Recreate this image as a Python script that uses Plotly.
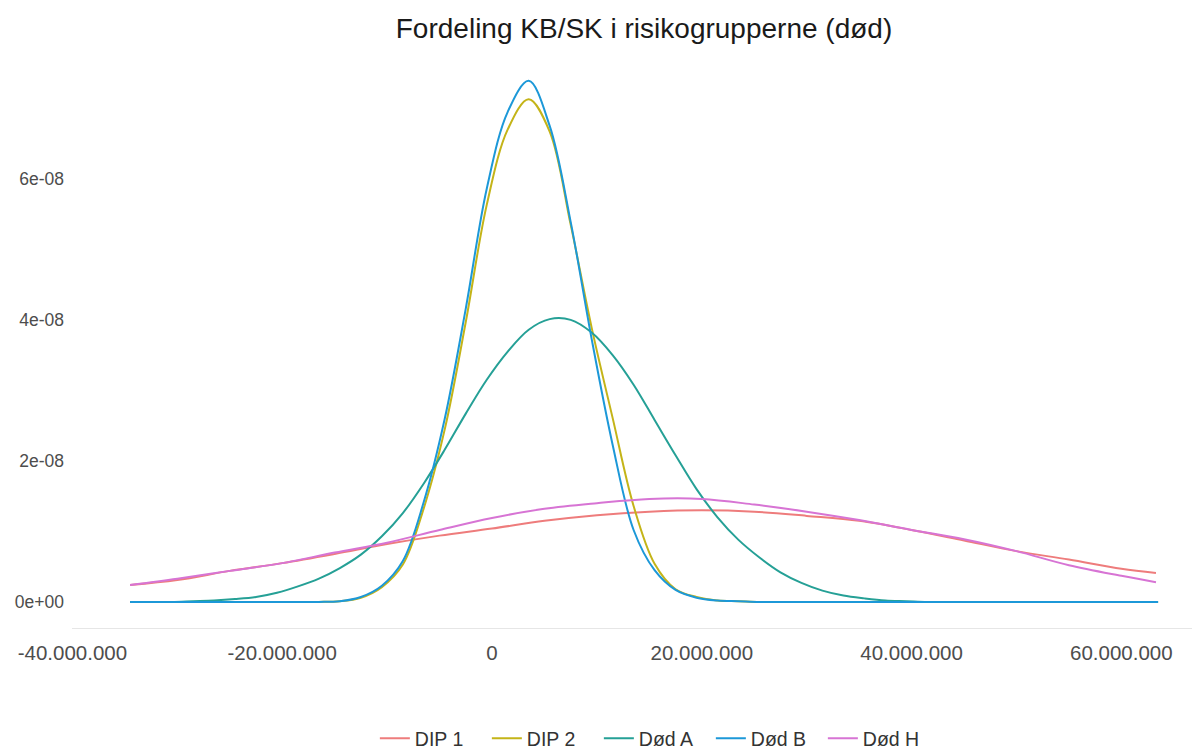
import numpy as np
import plotly.graph_objects as go

# x positions in millions, densities in units of 1e-8
x_narrow = [-34.5, -32.5, -30.5, -28.5, -26.5, -24.5, -22.5, -20.5, -18.5, -16.5,
            -14.5, -12.5, -10.5, -8.5, -6.5, -4.5, -2.5, -0.5, 1.5, 3.5,
            5.5, 7.5, 9.5, 11.5, 13.5, 15.5, 17.5, 19.5, 21.5, 23.5,
            25.5, 27.5, 29.5, 31.5, 33.5, 35.5, 37.5, 39.5, 41.5, 43.5,
            45.5, 47.5, 49.5, 51.5, 53.5, 55.5, 57.5, 59.5, 61.5, 63.5]
dip_2 = [0, 0, 0, 0, 0, 0, 0, 0, 0, 0,
         0.01, 0.06, 0.21, 0.53, 1.33, 2.45, 3.97, 5.63, 6.70, 7.13,
         6.67, 5.35, 3.89, 2.61, 1.36, 0.54, 0.18, 0.07, 0.02, 0.01,
         0, 0, 0, 0, 0, 0, 0, 0, 0, 0,
         0, 0, 0, 0, 0, 0, 0, 0, 0, 0]
dod_a = [0, 0, 0, 0.01, 0.02, 0.04, 0.07, 0.13, 0.22, 0.33,
         0.48, 0.67, 0.93, 1.26, 1.68, 2.16, 2.67, 3.15, 3.55, 3.86,
         4.01, 4.00, 3.82, 3.50, 3.08, 2.58, 2.08, 1.60, 1.20, 0.88,
         0.63, 0.42, 0.27, 0.16, 0.09, 0.05, 0.02, 0.01, 0, 0,
         0, 0, 0, 0, 0, 0, 0, 0, 0, 0]
dod_b = [0, 0, 0, 0, 0, 0, 0, 0, 0, 0,
         0.01, 0.07, 0.23, 0.58, 1.42, 2.60, 4.16, 5.86, 6.95, 7.39,
         6.75, 5.39, 3.73, 2.23, 1.02, 0.45, 0.17, 0.06, 0.02, 0.01,
         0, 0, 0, 0, 0, 0, 0, 0, 0, 0,
         0, 0, 0, 0, 0, 0, 0, 0, 0, 0]

x_wide = [-34.5, -30, -25, -20, -15, -10, -5, 0, 5, 10, 15, 20, 25, 30, 35, 40, 45, 50, 55, 60, 63.3]
dip_1 = [0.24, 0.31, 0.44, 0.55, 0.68, 0.82, 0.94, 1.04, 1.15, 1.23, 1.28, 1.30, 1.28, 1.22,
         1.15, 1.02, 0.87, 0.72, 0.60, 0.47, 0.41]
dod_h = [0.24, 0.33, 0.44, 0.55, 0.70, 0.84, 1.02, 1.19, 1.32, 1.40, 1.46, 1.46, 1.38, 1.28,
         1.16, 1.02, 0.89, 0.72, 0.52, 0.37, 0.28]

x_tickvals = [-40, -20, 0, 20, 40, 60]
x_ticktext = ["-40.000.000", "-20.000.000", "0", "20.000.000", "40.000.000", "60.000.000"]
y_tickvals = [0, 2, 4, 6]
y_ticktext = ["0e+00", "2e-08", "4e-08", "6e-08"]

series = [
    ("DIP 1", x_wide, dip_1, "#EE7C7C"),
    ("DIP 2", x_narrow, dip_2, "#C4B418"),
    ("Død A", x_narrow, dod_a, "#25A096"),
    ("Død B", x_narrow, dod_b, "#1C98D8"),
    ("Død H", x_wide, dod_h, "#D774D4"),
]

XS, YS = 1e6, 1e-8
fig = go.Figure()
for name, xs, ys, col in series:
    fig.add_trace(go.Scatter(
        x=np.array(xs) * XS, y=np.array(ys) * YS, mode="lines", name=name,
        line=dict(color=col, width=2, shape="spline", smoothing=1.0),
    ))

font = "Liberation Sans, Arial, sans-serif"
fig.update_layout(
    width=1200, height=750,
    paper_bgcolor="white", plot_bgcolor="white",
    margin=dict(l=64, r=0, t=46, b=130),
    font=dict(family=font, size=16, color="#4d4d4d"),
    title=dict(text="Fordeling KB/SK i risikogrupperne (død)", x=0.53, xref="container",
               xanchor="center", y=0.973, yanchor="middle", yref="container",
               font=dict(family=font, size=28, color="#1a1a1a")),
    showlegend=True,
    legend=dict(orientation="h", x=0.2666, xanchor="left", y=-0.1934, yanchor="middle",
                entrywidth=67, entrywidthmode="pixels",
                font=dict(family=font, size=19.5, color="#333333"), itemwidth=30),
    xaxis=dict(range=[-40.04e6, 68.26e6], tickvals=[v * XS for v in x_tickvals], ticktext=x_ticktext,
               showgrid=False, zeroline=False, showline=True, linecolor="#e6e6e6", linewidth=1,
               ticks="", ticklabelstandoff=6, tickfont=dict(size=20.5, color="#4d4d4d")),
    yaxis=dict(range=[-0.37e-8, 7.77e-8], tickvals=[v * YS for v in y_tickvals], ticktext=y_ticktext,
               showgrid=False, zeroline=False, showline=False,
               ticks="", ticklabelstandoff=7, tickfont=dict(size=17.5, color="#4d4d4d")),
)

fig.write_html("out.html")
